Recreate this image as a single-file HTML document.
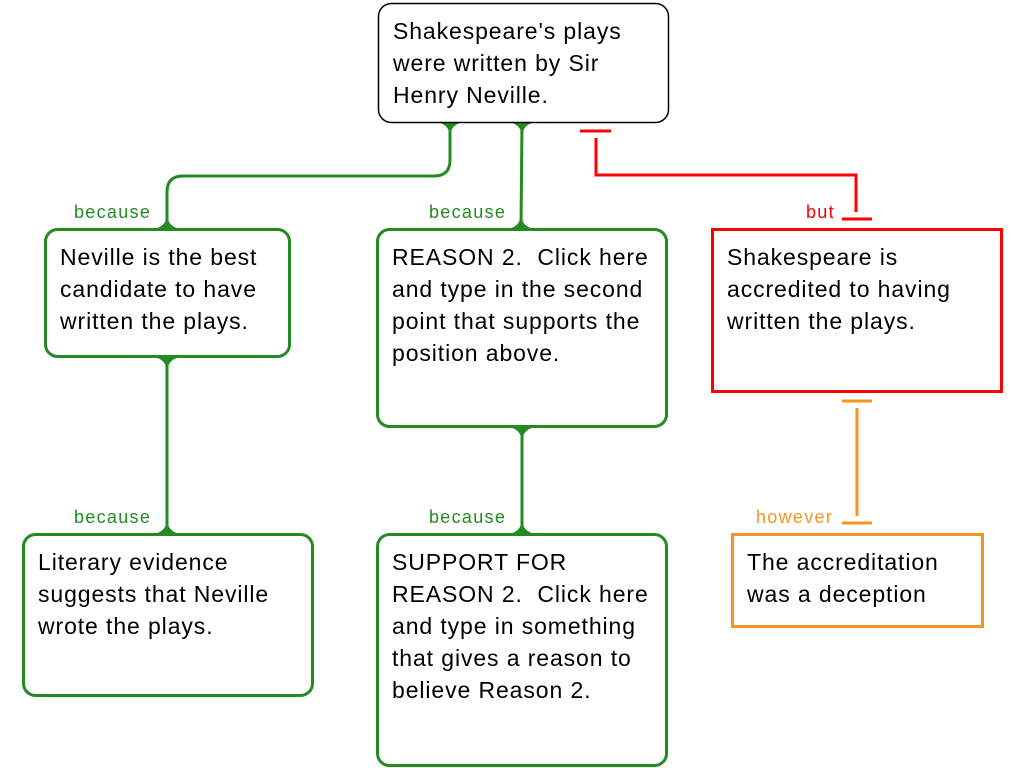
<!DOCTYPE html>
<html><head><style>
body{margin:0;background:#fff;}
svg{display:block;font-family:"Liberation Sans",Arial,sans-serif;}
.t{font-size:23px;fill:#000;letter-spacing:0.9px;}
.l{font-size:18px;letter-spacing:1.3px;}
</style></head><body>
<svg width="1024" height="768" viewBox="0 0 1024 768">
<g fill="none" stroke="#228b22" stroke-width="3">
<path d="M450,122 V160 Q450,176 434,176 H183 Q167,176 167,192 V229"/>
<path d="M522,122 L521,229"/>
<path d="M167,357 V534"/>
<path d="M522,427 V534"/>
</g>
<g fill="#228b22">
<path d="M436,122 Q450,124 450,138 Q450,124 464,122Z"/>
<path d="M508,122 Q522,124 522,138 Q522,124 536,122Z"/>
<path d="M153,229 Q167,227 167,213 Q167,227 181,229Z"/>
<path d="M507,229 Q521,227 521,213 Q521,227 535,229Z"/>
<path d="M153,357 Q167,359 167,373 Q167,359 181,357Z"/>
<path d="M153,534 Q167,532 167,518 Q167,532 181,534Z"/>
<path d="M508,427 Q522,429 522,443 Q522,429 536,427Z"/>
<path d="M508,534 Q522,532 522,518 Q522,532 536,534Z"/>
</g>
<g fill="none" stroke="#f00" stroke-width="3">
<path d="M580,131 H611 M596,138 V175 H856 V212 M842,219 H872"/>
</g>
<g fill="none" stroke="#f7931e" stroke-width="3">
<path d="M842,401 H872 M857,408 V516 M842,523 H872"/>
</g>
<rect x="378.5" y="3.5" width="290" height="119" rx="13" fill="#fff" stroke="#000" stroke-width="1.5"/>
<g fill="#fff" stroke="#228b22" stroke-width="3">
<rect x="45.5" y="229.5" width="244" height="127" rx="12"/>
<rect x="377.5" y="229.5" width="289" height="197" rx="12"/>
<rect x="23.5" y="534.5" width="289" height="161" rx="12"/>
<rect x="377.5" y="534.5" width="289" height="231" rx="12"/>
</g>
<rect x="712.5" y="229.5" width="289" height="162" fill="#fff" stroke="#f00" stroke-width="3"/>
<rect x="732.5" y="534.5" width="250" height="92" fill="#fff" stroke="#f7931e" stroke-width="3"/>
<g class="t">
<text x="393" y="39">Shakespeare's plays</text><text x="393" y="71">were written by Sir</text><text x="393" y="103">Henry Neville.</text>
<text x="60" y="265">Neville is the best</text><text x="60" y="297">candidate to have</text><text x="60" y="329">written the plays.</text>
<text x="392" y="265">REASON 2.&#160; Click here</text><text x="392" y="297">and type in the second</text><text x="392" y="329">point that supports the</text><text x="392" y="361">position above.</text>
<text x="727" y="265">Shakespeare is</text><text x="727" y="297">accredited to having</text><text x="727" y="329">written the plays.</text>
<text x="38" y="570">Literary evidence</text><text x="38" y="602">suggests that Neville</text><text x="38" y="634">wrote the plays.</text>
<text x="392" y="570">SUPPORT FOR</text><text x="392" y="602">REASON 2.&#160; Click here</text><text x="392" y="634">and type in something</text><text x="392" y="666">that gives a reason to</text><text x="392" y="698">believe Reason 2.</text>
<text x="747" y="570">The accreditation</text><text x="747" y="602">was a deception</text>
</g>
<g class="l">
<text x="74" y="218" fill="#228b22">because</text>
<text x="429" y="218" fill="#228b22">because</text>
<text x="74" y="523" fill="#228b22">because</text>
<text x="429" y="523" fill="#228b22">because</text>
<text x="806" y="218" fill="#f00">but</text>
<text x="756" y="523" fill="#f7931e">however</text>
</g>
</svg>
</body></html>
